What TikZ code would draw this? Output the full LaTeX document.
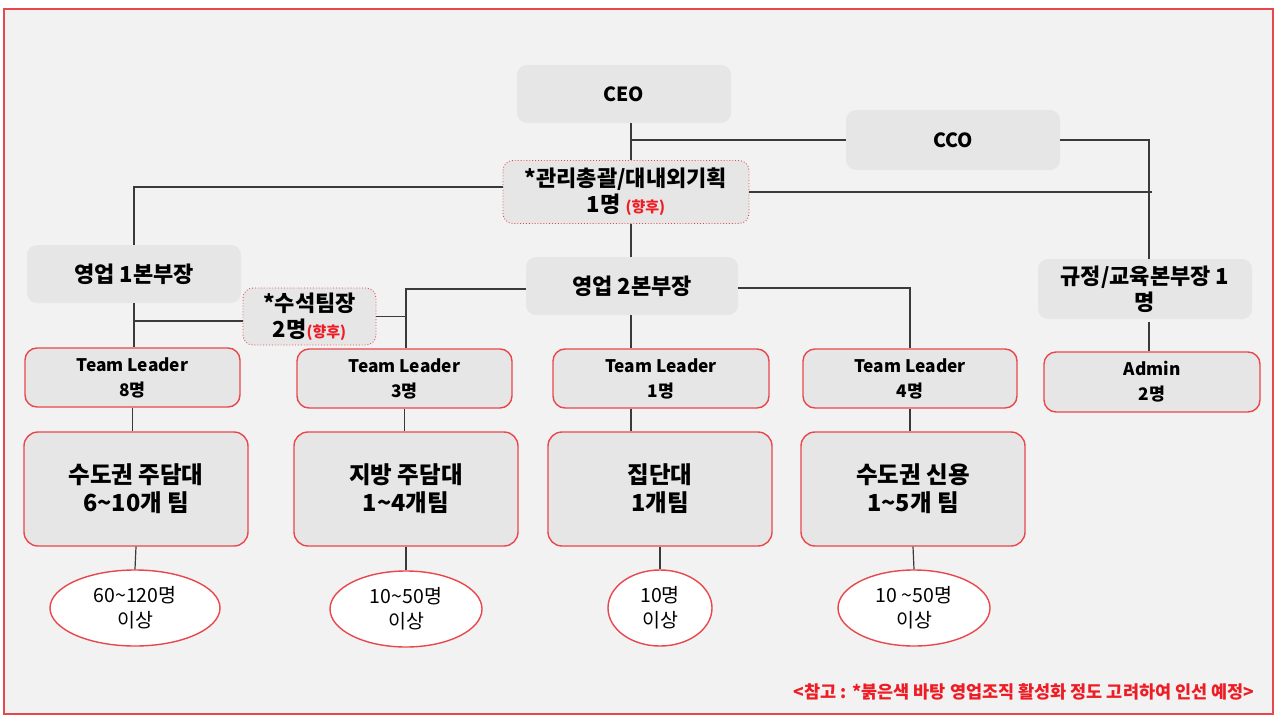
\documentclass[tikz,border=0pt]{standalone}
\usepackage{fontspec}
\setmainfont{Noto Sans CJK KR}
\usetikzlibrary{shapes.geometric}
\definecolor{framebg}{HTML}{F2F2F2}
\definecolor{boxgray}{HTML}{E7E6E6}
\definecolor{orgred}{HTML}{E8474C}
\definecolor{notered}{HTML}{EE1C25}
\definecolor{linkgray}{HTML}{3A3A3A}
\newcommand{\futuremark}{{\color{notered}\fontsize{15}{17}\selectfont(향후)}}
\tikzset{
  headbox/.style={fill=boxgray, rounded corners=10pt, minimum width=214pt, minimum height=58pt, align=center, font=\bfseries\fontsize{22}{26}\selectfont},
  planbox/.style={headbox, draw=orgred, dotted, line width=0.9pt},
  leadbox/.style={fill=boxgray, draw=orgred, line width=1.4pt, rounded corners=12pt, minimum width=215pt, minimum height=59pt, align=center, font=\bfseries\fontsize{17.3}{25}\selectfont},
  teambox/.style={leadbox, rounded corners=14pt, minimum width=224pt, minimum height=114pt, font=\bfseries\fontsize{23.5}{28}\selectfont},
  headcount/.style={ellipse, fill=white, draw=orgred, line width=1.4pt, minimum height=76pt, inner sep=0pt, align=center, font=\fontsize{19.5}{25}\selectfont},
  link/.style={draw=linkgray, line width=1.2pt}
}

\begin{document}
\begin{tikzpicture}[x=1pt, y=-1pt]
\useasboundingbox (0,0) rectangle (1280,720);
\fill[white] (0,0) rectangle (1280,720);
\draw[orgred, fill=framebg, line width=1.2pt] (4,9) rectangle (1273,714);
\coordinate (spine) at (631,0);
\coordinate (midbus) at (406,0);
\coordinate (rightbus) at (1149,0);

\node[headbox, font=\bfseries\fontsize{19.5}{24}\selectfont] (ceo) at (624,94) {CEO};
\node[headbox, minimum height=60pt, font=\bfseries\fontsize{19.5}{24}\selectfont] (cco) at (953,140) {CCO};
\node[planbox, minimum width=246pt, minimum height=63pt] (mgmt) at (626,192) {*관리총괄/대내외기획\\1명 \futuremark};
\node[headbox] (sales1) at (134,274) {영업 1본부장};
\node[headbox, minimum width=212pt] (sales2) at (632,286) {영업 2본부장};
\node[headbox, minimum height=60pt] (rules) at (1145,289) {규정/교육본부장 1\\명};
\node[planbox, minimum width=133pt, minimum height=57pt] (chief) at (309.5,316.5) {*수석팀장\\2명\futuremark};

\node[leadbox] (tla) at (132.5,377.5) {Team Leader\\8명};
\node[leadbox] (tlb) at (404.5,378.5) {Team Leader\\3명};
\node[leadbox, minimum width=216pt] (tlc) at (661,378.5) {Team Leader\\1명};
\node[leadbox, minimum width=214pt] (tld) at (910,378.5) {Team Leader\\4명};
\node[leadbox, minimum width=216pt, minimum height=60pt] (admin) at (1152,382) {Admin\\2명};

\node[teambox] (teama) at (136,489) {수도권 주담대\\6\textasciitilde10개 팀};
\node[teambox] (teamb) at (406,489) {지방 주담대\\1\textasciitilde4개팀};
\node[teambox] (teamc) at (660,489) {집단대\\1개팀};
\node[teambox] (teamd) at (913,489) {수도권 신용\\1\textasciitilde5개 팀};

\node[headcount, minimum width=170pt] (popa) at (135,608) {60\textasciitilde120명\\이상};
\node[headcount, minimum width=152pt] (popb) at (406,609) {10\textasciitilde50명\\이상};
\node[headcount, minimum width=104pt] (popc) at (660,608) {10명\\이상};
\node[headcount, minimum width=152pt] (popd) at (914,608) {10 \textasciitilde50명\\이상};

\node[anchor=east, text=notered, font=\bfseries\fontsize{17.5}{20}\selectfont] (note) at (1258,692) {<참고 : *붉은색 바탕 영업조직 활성화 정도 고려하여 인선 예정>};

\draw[link] (ceo.south -| spine) -- (mgmt.north -| spine);
\draw[link] (spine |- cco.west) -- (cco.west);
\draw[link] (cco.east) -| (rightbus |- rules.north);
\draw[link] (mgmt.east) -- ([xshift=3pt]rightbus |- mgmt.east);
\draw[link] ([yshift=5pt]mgmt.west) -| (sales1.north);
\draw[link] (mgmt.south -| spine) -- (sales2.north -| spine);
\draw[link] (sales1.south) -- (sales1.south |- tla.north);
\draw[link] ([yshift=-4.5pt]chief.west) -- ([yshift=-4.5pt]chief.west -| sales1.south);
\draw[link] (chief.east) -- (midbus |- chief.east);
\draw[link] ([yshift=-3pt]sales2.west) -| (midbus |- tlb.north);
\draw[link] (sales2.south -| spine) -- (tlc.north -| spine);
\draw[link] ([yshift=-2pt]sales2.east) -| (tld.north);
\draw[link] ([yshift=-3pt]rules.south -| rightbus) -- (admin.north -| rightbus);
\foreach \t in {a,b,d}{\draw[link] (tl\t.south) -- (tl\t.south |- team\t.north);}
\draw[link] (tlc.south -| spine) -- (teamc.north -| spine);
\foreach \t in {a,b,c,d}{\draw[link] (team\t.south) -- (pop\t.north);}
\end{tikzpicture}
\end{document}
